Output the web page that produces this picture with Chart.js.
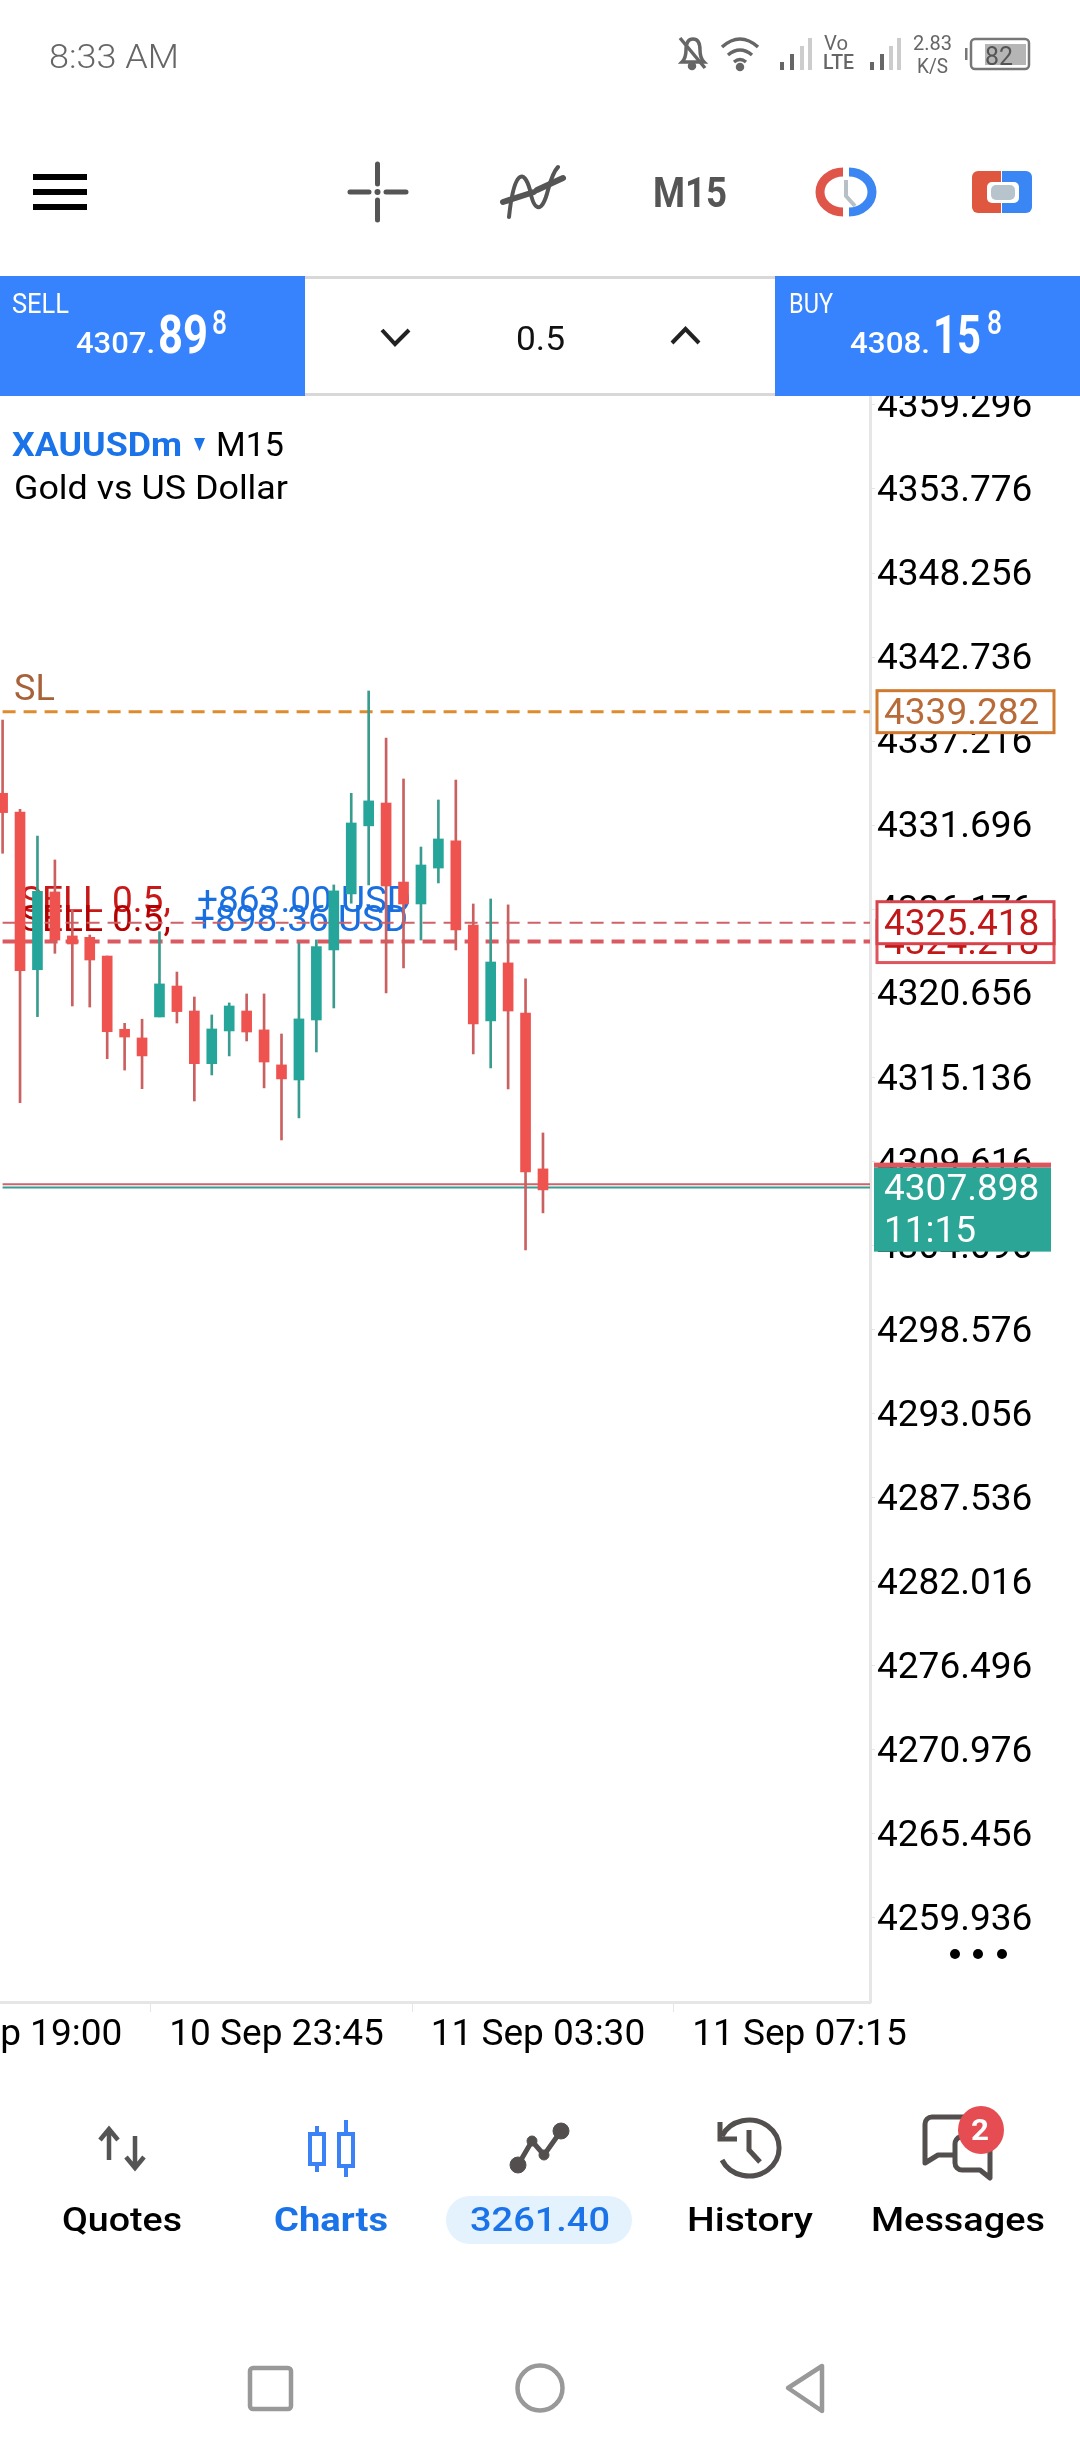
<!DOCTYPE html>
<html>
<head>
<meta charset="utf-8">
<title>XAUUSDm M15</title>
<script src="https://cdn.jsdelivr.net/npm/chart.js@4"></script>
<style>
  html, body { margin: 0; padding: 0; background: #fff; width: 1080px; height: 2460px; overflow: hidden; }
  canvas, svg { position: absolute; left: 0; top: 0; }
  svg { font-family: Roboto, sans-serif; pointer-events: none; }
</style>
</head>
<body>
<canvas id="candles" width="1080" height="2460"></canvas>

<svg width="1080" height="2460" viewBox="0 0 1080 2460">
  <!-- status bar -->
  <text x="49" y="68" font-size="34" font-weight="300" fill="#666" textLength="130">8:33 AM</text>
  <g fill="none" stroke="#666" stroke-width="3.5">
    <path d="M682 62 q4 -4 4 -12 q0 -11 7 -11 q7 0 7 11 q0 8 4 12 z"/>
    <path d="M680 38 L705 68"/>
    <circle cx="692" cy="66" r="2.5" fill="#666"/>
    <path d="M722 47 q18 -16 36 0"/>
    <path d="M728 55 q12 -10 24 0"/>
    <path d="M734 62 q6 -5 12 0"/>
    <circle cx="740" cy="67" r="2.5" fill="#666"/>
  </g>
  <g fill="#666">
    <rect x="780" y="62" width="4" height="8"/><rect x="790" y="54" width="4" height="16"/>
    <rect x="800" y="46" width="4" height="24" fill="#ccc"/><rect x="808" y="38" width="4" height="32" fill="#ccc"/>
    <rect x="870" y="62" width="4" height="8"/><rect x="880" y="54" width="4" height="16"/>
    <rect x="889" y="46" width="4" height="24" fill="#ccc"/><rect x="897" y="38" width="4" height="32" fill="#ccc"/>
  </g>
  <text x="824" y="50" font-size="20" fill="#666" textLength="24">Vo</text>
  <text x="823" y="69" font-size="20" font-weight="500" fill="#666" textLength="31">LTE</text>
  <text x="913" y="50" font-size="20" fill="#666" textLength="39">2.83</text>
  <text x="917" y="73" font-size="20" fill="#666" textLength="31">K/S</text>
  <rect x="971" y="39" width="58" height="30" rx="4" fill="none" stroke="#777" stroke-width="2.5"/>
  <rect x="965" y="48" width="2.5" height="12" fill="#777"/>
  <rect x="985" y="44" width="41" height="21" fill="#b5b5b5"/>
  <text x="985" y="65" font-size="26" fill="#555" textLength="28">82</text>

  <!-- toolbar -->
  <g fill="#000">
    <rect x="33" y="174" width="54" height="6"/><rect x="33" y="189" width="54" height="6"/><rect x="33" y="204" width="54" height="6"/>
  </g>
  <g stroke="#555" stroke-width="5" stroke-linecap="round" fill="none">
    <path d="M377.5 164 V184 M377.5 200 V220 M350 192 H369 M386 192 H406"/>
    <path d="M509 217 C514 170 524 168 530 190 C534 212 542 214 548 190 C552 175 555 170 558 167" stroke-width="4"/>
    <path d="M503 202 L534 192 M537 190 L563 178" stroke-width="6"/>
  </g>
  <circle cx="377.5" cy="192" r="3" fill="#555"/>
  <text x="653" y="207" font-size="42" font-weight="700" fill="#555" textLength="74">M15</text>
  <path d="M843 172 A23 20 0 0 0 843 212" fill="none" stroke="#e0554a" stroke-width="9"/>
  <path d="M849 172 A23 20 0 0 1 849 212" fill="none" stroke="#3b86f2" stroke-width="9"/>
  <path d="M846 180 V196 L855 206" fill="none" stroke="#b8c0c6" stroke-width="4"/>
  <path d="M978 171 H1001 V213 H978 a6 6 0 0 1 -6 -6 V177 a6 6 0 0 1 6 -6 z" fill="#e0573f"/>
  <path d="M1002 171 H1026 a6 6 0 0 1 6 6 V207 a6 6 0 0 1 -6 6 H1002 z" fill="#3a86f5"/>
  <rect x="987" y="182" width="32" height="21" rx="5" fill="#fff"/>
  <rect x="991" y="185" width="24" height="15" rx="5" fill="#b8c4cc"/>

  <!-- trade bar -->
  <rect x="305" y="276" width="470" height="120" fill="#fff"/>
  <rect x="305" y="276" width="470" height="3" fill="#d8d8d8"/>
  <rect x="305" y="393" width="470" height="3" fill="#d8d8d8"/>
  <rect x="0" y="276" width="305" height="120" fill="#3783fd"/>
  <rect x="775" y="276" width="305" height="120" fill="#3783fd"/>
  <g fill="#fff">
    <text x="12" y="313" font-size="28" textLength="57">SELL</text>
    <text x="76" y="353" font-size="30" font-weight="500" textLength="79">4307.</text>
    <text x="158" y="353" font-size="54" font-weight="700" textLength="50">89</text>
    <text x="212" y="334" font-size="33" font-weight="500" textLength="15">8</text>
    <text x="789" y="313" font-size="28" textLength="44">BUY</text>
    <text x="850" y="353" font-size="30" font-weight="500" textLength="80">4308.</text>
    <text x="933" y="353" font-size="54" font-weight="700" textLength="48">15</text>
    <text x="987" y="334" font-size="33" font-weight="500" textLength="15">8</text>
  </g>
  <g fill="none" stroke="#222" stroke-width="4">
    <path d="M382 330 L395 344 L409 330"/>
    <path d="M672 343 L685.5 329 L699 343"/>
  </g>
  <text x="516" y="350" font-size="34" fill="#111" textLength="49">0.5</text>

  <!-- symbol title -->
  <text x="12" y="456" font-size="34" font-weight="700" fill="#1a73e8" textLength="170">XAUUSDm</text>
  <path d="M194 438 H205 L199.5 451 z" fill="#1a73e8"/>
  <text x="216" y="456" font-size="34" fill="#000" textLength="68">M15</text>
  <text x="14" y="499" font-size="34" fill="#000" textLength="274">Gold vs US Dollar</text>

  <!-- more button -->
  <g fill="#000"><circle cx="955" cy="1954" r="5"/><circle cx="978" cy="1954" r="5"/><circle cx="1002" cy="1954" r="5"/></g>

  <!-- bottom nav -->
  <g fill="none" stroke="#555" stroke-width="4.5">
    <path d="M109 2130 V2160 M100 2140 L109 2129 L118 2140"/>
    <path d="M135 2136 V2167 M126 2157 L135 2168 L144 2157"/>
  </g>
  <g stroke="#3b82f6" stroke-width="4" fill="#fff">
    <path d="M317 2126 V2172 M346 2120 V2177"/>
    <rect x="310" y="2134" width="14" height="30"/>
    <rect x="339" y="2134" width="14" height="32"/>
  </g>
  <g fill="#544f4f" stroke="#544f4f">
    <path d="M518 2165 L532 2141 L544 2155 L561 2131" fill="none" stroke-width="5"/>
    <circle cx="518" cy="2165" r="8"/><circle cx="532" cy="2141" r="5"/><circle cx="544" cy="2155" r="5"/><circle cx="561" cy="2131" r="8"/>
  </g>
  <g fill="none" stroke="#544f4f" stroke-width="5">
    <path d="M722 2136 A30 28 0 1 1 722 2160"/>
    <path d="M720 2122 V2139 H737"/>
    <path d="M749 2130 V2150 L760 2162"/>
  </g>
  <g fill="none" stroke="#544f4f" stroke-width="5" stroke-linejoin="round">
    <path d="M975 2117 H932 a7 7 0 0 0 -7 7 V2163 L938 2155 H954"/>
    <path d="M960 2137 a7 7 0 0 0 -5 7 V2163 a7 7 0 0 0 7 7 H980 L990 2178 V2140"/>
  </g>
  <ellipse cx="981" cy="2130" rx="23" ry="24" fill="#e54d52"/>
  <text x="971" y="2140" font-size="30" font-weight="700" fill="#fff" textLength="18">2</text>
  <rect x="446" y="2196" width="186" height="48" rx="24" fill="#e3f2fd"/>
  <text x="62" y="2231" font-size="34" font-weight="500" fill="#000" textLength="120">Quotes</text>
  <text x="274" y="2231" font-size="34" font-weight="700" fill="#1a73e8" textLength="114">Charts</text>
  <text x="470" y="2231" font-size="34" font-weight="500" fill="#1a73e8" textLength="140">3261.40</text>
  <text x="687" y="2231" font-size="34" font-weight="500" fill="#000" textLength="126">History</text>
  <text x="871" y="2231" font-size="34" font-weight="500" fill="#000" textLength="174">Messages</text>

  <!-- system nav -->
  <g fill="none" stroke="#999" stroke-width="4.5" stroke-linejoin="round">
    <rect x="250" y="2368" width="41" height="41" rx="3"/>
    <circle cx="540" cy="2388" r="22.5"/>
    <path d="M822 2366 V2411 L788 2388 z"/>
  </g>
</svg>

<script>
// candles, one entry per 15 minute bar
const opens = [4333.79, 4332.56, 4322.20, 4327.31, 4324.42, 4324.33, 4323.10, 4318.29, 4317.72, 4319.10, 4321.13, 4319.49, 4316.03, 4318.18, 4319.49, 4318.25, 4315.95, 4314.96, 4318.90, 4323.50, 4327.18, 4331.65, 4333.15, 4327.96, 4326.52, 4328.88, 4330.66, 4325.14, 4318.84, 4322.65, 4319.36, 4309.12];
const highs = [4338.60, 4332.74, 4330.98, 4329.41, 4326.13, 4324.48, 4323.10, 4318.68, 4318.95, 4324.70, 4322.05, 4320.41, 4319.23, 4320.02, 4320.61, 4320.61, 4317.98, 4323.94, 4324.16, 4327.77, 4333.79, 4340.51, 4337.42, 4334.73, 4330.26, 4333.35, 4334.66, 4326.52, 4326.85, 4326.46, 4321.60, 4311.48];
const lows = [4329.85, 4313.47, 4319.12, 4323.28, 4319.82, 4319.75, 4316.36, 4315.61, 4314.39, 4319.10, 4318.70, 4313.58, 4315.29, 4316.54, 4317.52, 4314.44, 4311.02, 4312.47, 4316.80, 4319.69, 4326.57, 4327.77, 4320.67, 4322.32, 4324.15, 4327.90, 4323.50, 4316.67, 4315.75, 4314.37, 4303.80, 4306.23];
const closes = [4332.52, 4322.14, 4327.35, 4324.15, 4323.89, 4322.84, 4318.13, 4317.78, 4316.54, 4321.27, 4319.45, 4316.03, 4318.31, 4319.82, 4318.11, 4316.14, 4315.03, 4318.97, 4323.72, 4327.38, 4331.84, 4333.29, 4327.70, 4326.52, 4329.08, 4330.79, 4324.81, 4318.64, 4322.71, 4319.49, 4308.92, 4307.74];

// axes
const yTicks = [4359.296, 4353.776, 4348.256, 4342.736, 4337.216, 4331.696, 4326.176, 4320.656, 4315.136, 4309.616, 4304.096, 4298.576, 4293.056, 4287.536, 4282.016, 4276.496, 4270.976, 4265.456, 4259.936];
const xTickBars = [1, 16, 31, 46];
const xTickLabels = ['10 Sep 19:00', '10 Sep 23:45', '11 Sep 03:30', '11 Sep 07:15'];
const yMin = 4254.40, yMax = 4359.884;
const xMin = -0.149, xMax = 49.76;

// horizontal price levels as they sit on the chart, and what their tags say
const slLevel = 4339.15, slTag = '4339.282';
const entryLevels = [4325.29, 4324.05];
const entryTags = ['4325.418', '4324.218'];
const askLevel = 4308.11, bidLevel = 4307.89;
const bidTag = '4307.898', countdown = '11:15';
const tradeLabels = ['SELL 0.5,', 'SELL 0.5,'];
const tradeProfits = ['+863.00 USD', '+898.36 USD'];

const UP = '#26a69a', DOWN = '#ef5350';
const barColor = (i) => closes[i] >= opens[i] ? UP : DOWN;
const wickColor = (i) => closes[i] >= opens[i] ? '#3a9c8e' : '#cb6060';

function level(value, color, width, dash) {
    return {
        type: 'line',
        data: [{x: 0.0, y: value}, {x: xMax, y: value}],
        borderColor: color,
        borderWidth: width,
        borderDash: dash || [],
        pointRadius: 0,
        order: 2
    };
}

// trade labels go under the candles, price tags on top of the axis
const overlays = {
    id: 'overlays',
    beforeDatasetsDraw(chart) {
        const ctx = chart.ctx, y = chart.scales.y;
        ctx.save();
        ctx.font = '36px Roboto';
        ctx.textBaseline = 'alphabetic';
        ctx.fillStyle = '#a8623a';
        ctx.fillText('SL', 14, y.getPixelForValue(slLevel) - 12);
        entryLevels.forEach((v, i) => {
            const base = y.getPixelForValue(v) - 11;
            ctx.font = '37px Roboto';
            ctx.fillStyle = i ? '#b40000' : '#c81818';
            ctx.fillText(tradeLabels[i], 20, base);
            ctx.fillStyle = '#1a6fe0';
            ctx.fillText(tradeProfits[i], i ? 194 : 197, base);
        });
        ctx.restore();
    },
    afterDraw(chart) {
        const ctx = chart.ctx, y = chart.scales.y;
        const tag = (value, text, stroke, color) => {
            const py = y.getPixelForValue(value);
            ctx.fillStyle = '#fff';
            ctx.fillRect(877, py - 21, 177, 42);
            ctx.strokeStyle = stroke;
            ctx.lineWidth = 3;
            ctx.strokeRect(877, py - 21, 177, 42);
            ctx.fillStyle = color;
            ctx.fillText(text, 884, py + 3);
        };
        ctx.save();
        ctx.font = '37px Roboto';
        ctx.textBaseline = 'middle';
        tag(slLevel, slTag, '#cf7a2e', '#b86a38');
        tag(entryLevels[1], entryTags[1], '#e0555c', '#c01818');
        tag(entryLevels[0], entryTags[0], '#d9434c', '#c01818');

        const py = y.getPixelForValue(bidLevel);
        ctx.fillStyle = '#e0555c';
        ctx.fillRect(874, py - 25, 177, 5);
        ctx.fillStyle = '#2aa596';
        ctx.fillRect(874, py - 20, 177, 84);
        ctx.fillStyle = '#fff';
        ctx.fillText(bidTag, 884, py + 3);
        ctx.fillText(countdown, 884, py + 45);
        ctx.restore();
    }
};

const ctx = document.getElementById('candles').getContext('2d');
new Chart(ctx, {
    data: {
        datasets: [
            level(slLevel, '#e08a2e', 3, [13, 8]),
            level(entryLevels[0], '#cf6268', 2, [13, 8]),
            level(entryLevels[1], '#d95a60', 4, [13, 8]),
            level(askLevel, '#c9666b', 2),
            level(bidLevel, '#3a9b90', 2),
            {
                type: 'bar',
                data: lows.map((low, i) => ({x: i, y: [low, highs[i]]})),
                backgroundColor: lows.map((_, i) => wickColor(i)),
                barThickness: 2,
                order: 1
            },
            {
                type: 'bar',
                data: opens.map((open, i) => ({x: i, y: [open, closes[i]]})),
                backgroundColor: opens.map((_, i) => barColor(i)),
                barThickness: 10,
                order: 0
            }
        ]
    },
    options: {
        responsive: false,
        animation: false,
        devicePixelRatio: 1,
        grouped: false,
        layout: {autoPadding: false, padding: {top: 396}},
        plugins: {legend: {display: false}, tooltip: {enabled: false}},
        scales: {
            x: {
                type: 'linear',
                offset: false,
                min: xMin,
                max: xMax,
                afterBuildTicks: (scale) => { scale.ticks = xTickBars.map(v => ({value: v})); },
                afterFit: (scale) => {
                    scale.height = 458;
                    scale.paddingLeft = 0;
                    scale.paddingRight = 0;
                },
                grid: {drawOnChartArea: false, color: '#e6e6e6', tickLength: 10},
                border: {color: '#e6e6e6', width: 3},
                ticks: {
                    autoSkip: false,
                    maxRotation: 0,
                    padding: 2,
                    labelOffset: -5,
                    color: '#000',
                    font: {family: 'Roboto', size: 37},
                    callback: (v) => xTickLabels[xTickBars.indexOf(v)]
                }
            },
            y: {
                position: 'right',
                min: yMin,
                max: yMax,
                afterBuildTicks: (scale) => { scale.ticks = yTicks.map(v => ({value: v})); },
                afterFit: (scale) => {
                    scale.width = 210;
                    scale.paddingTop = 0;
                    scale.paddingBottom = 0;
                },
                grid: {drawOnChartArea: false, color: '#e6e6e6', tickLength: 5},
                border: {color: '#e6e6e6', width: 3},
                ticks: {
                    autoSkip: false,
                    padding: 2,
                    labelOffset: 3,
                    color: '#000',
                    font: {family: 'Roboto', size: 37},
                    callback: (v) => v.toFixed(3)
                }
            }
        }
    },
    plugins: [overlays]
});

document.querySelectorAll('svg text[textLength]').forEach((t) => t.setAttribute('lengthAdjust', 'spacingAndGlyphs'));
</script>
</body>
</html>
